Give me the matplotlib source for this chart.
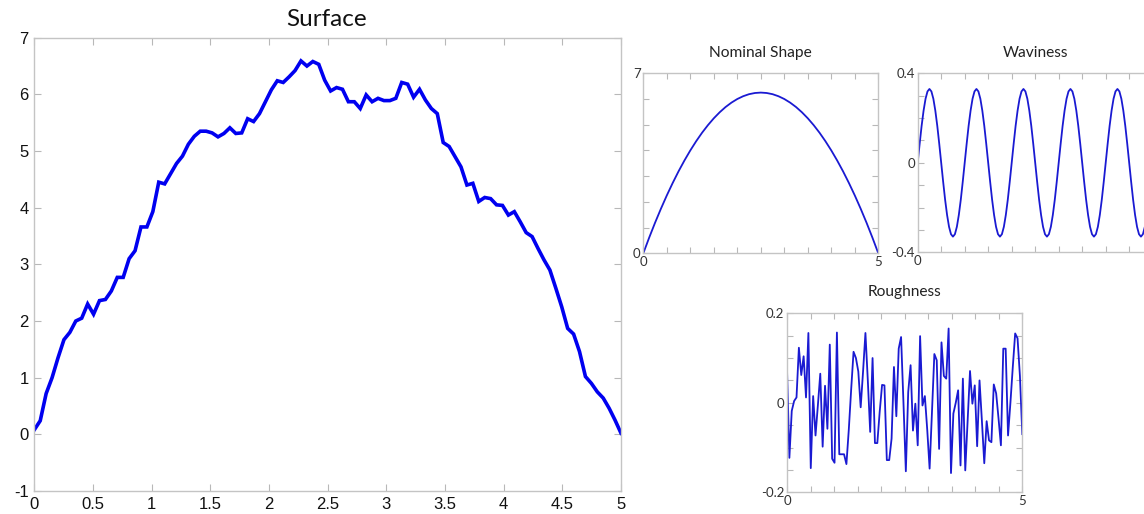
import numpy as np
import matplotlib.pyplot as plt

# surface profile (100 samples over 0..5)
surface = [0.08, 0.24, 0.72, 1.00, 1.35, 1.67, 1.80, 2.00, 2.05, 2.30,
           2.12, 2.36, 2.38, 2.53, 2.77, 2.77, 3.10, 3.24, 3.66, 3.66,
           3.93, 4.45, 4.42, 4.60, 4.78, 4.91, 5.12, 5.26, 5.35, 5.35,
           5.32, 5.25, 5.31, 5.41, 5.31, 5.32, 5.57, 5.52, 5.66, 5.87,
           6.08, 6.24, 6.21, 6.31, 6.42, 6.59, 6.50, 6.58, 6.53, 6.25,
           6.06, 6.12, 6.09, 5.87, 5.87, 5.75, 5.99, 5.87, 5.93, 5.89,
           5.89, 5.93, 6.21, 6.18, 5.95, 6.09, 5.90, 5.75, 5.66, 5.15,
           5.08, 4.90, 4.72, 4.40, 4.43, 4.11, 4.18, 4.16, 4.05, 4.04,
           3.87, 3.93, 3.75, 3.56, 3.49, 3.28, 3.08, 2.90, 2.58, 2.25,
           1.87, 1.77, 1.46, 1.02, 0.90, 0.75, 0.64, 0.46, 0.25, 0.02]

# nominal shape, sampled every 0.125
nominal = [0.000, 0.609, 1.188, 1.734, 2.250, 2.734, 3.188, 3.609, 4.000, 4.359,
           4.688, 4.984, 5.250, 5.484, 5.688, 5.859, 6.000, 6.109, 6.188, 6.234,
           6.250, 6.234, 6.188, 6.109, 6.000, 5.859, 5.688, 5.484, 5.250, 4.984,
           4.688, 4.359, 4.000, 3.609, 3.188, 2.734, 2.250, 1.734, 1.188, 0.609,
           0.000]

# waviness, sampled every 1/24
waviness = [0.000, 0.085, 0.165, 0.233, 0.286, 0.319, 0.330, 0.319, 0.286, 0.233, 0.165, 0.085,
            0.000, -0.085, -0.165, -0.233, -0.286, -0.319, -0.330, -0.319, -0.286, -0.233, -0.165, -0.085,
            0.000, 0.085, 0.165, 0.233, 0.286, 0.319, 0.330, 0.319, 0.286, 0.233, 0.165, 0.085,
            0.000, -0.085, -0.165, -0.233, -0.286, -0.319, -0.330, -0.319, -0.286, -0.233, -0.165, -0.085,
            0.000, 0.085, 0.165, 0.233, 0.286, 0.319, 0.330, 0.319, 0.286, 0.233, 0.165, 0.085,
            0.000, -0.085, -0.165, -0.233, -0.286, -0.319, -0.330, -0.319, -0.286, -0.233, -0.165, -0.085,
            0.000, 0.085, 0.165, 0.233, 0.286, 0.319, 0.330, 0.319, 0.286, 0.233, 0.165, 0.085,
            0.000, -0.085, -0.165, -0.233, -0.286, -0.319, -0.330, -0.319, -0.286, -0.233, -0.165, -0.085,
            0.000, 0.085, 0.165, 0.233, 0.286, 0.319, 0.330, 0.319, 0.286, 0.233, 0.165, 0.085,
            0.000, -0.085, -0.165, -0.233, -0.286, -0.319, -0.330, -0.319, -0.286, -0.233, -0.165, -0.085,
            0.000]

# roughness, 100 samples
roughness = [0.075, -0.123, -0.018, 0.004, 0.012, 0.123, 0.062, 0.104, 0.012, 0.156,
             -0.146, 0.015, -0.073, -0.005, 0.065, -0.098, 0.038, -0.058, 0.130, -0.125,
             -0.134, 0.157, -0.115, -0.115, -0.115, -0.137, -0.060, 0.030, 0.114, 0.100,
             0.070, -0.010, 0.070, 0.156, 0.050, -0.065, 0.100, -0.090, -0.090, -0.020,
             0.040, 0.039, -0.128, -0.128, -0.080, 0.080, -0.030, 0.121, 0.147, 0.000,
             -0.153, 0.024, 0.084, -0.062, -0.002, -0.095, 0.149, -0.006, 0.015, -0.060,
             -0.147, -0.020, 0.109, 0.095, -0.103, 0.135, 0.060, 0.054, 0.166, -0.157,
             -0.024, 0.000, 0.028, -0.140, 0.054, -0.151, -0.040, 0.071, -0.002, 0.039,
             -0.097, 0.050, -0.040, -0.135, -0.041, -0.084, -0.088, 0.041, 0.021, -0.035,
             -0.095, 0.121, 0.121, -0.073, 0.000, 0.080, 0.155, 0.144, 0.060, -0.070]

surf_xticks = ['0', '0.5', '1', '1.5', '2', '2.5', '3', '3.5', '4', '4.5', '5']
surf_yticks = ['-1', '0', '1', '2', '3', '4', '5', '6', '7']

W, H = 1144, 514
fig = plt.figure(figsize=(W / 100, H / 100), dpi=100)


def px_axes(left, top, width, height):
    return fig.add_axes([left / W, 1 - (top + height) / H, width / W, height / H])


def box_style(ax, length=4):
    for s in ax.spines.values():
        s.set_color('#c4c4c4')
        s.set_linewidth(1.0)
    ax.tick_params(direction='in', top=True, right=True, length=length,
                   color='#b8b8b8', width=0.8)


# --- Surface (big panel) ---
ax = px_axes(34.3, 37.7, 586.7, 453.3)
ax.plot(np.linspace(0, 5, len(surface)), surface, color='#0000f0', lw=2.6,
        solid_joinstyle='miter')
ax.set_xlim(0, 5)
ax.set_ylim(-1, 7)
ax.set_xticks(np.arange(0, 5.01, 0.5))
ax.set_xticklabels(surf_xticks)
ax.set_yticks(np.arange(-1, 7.01, 1))
ax.set_yticklabels(surf_yticks)
box_style(ax, length=5)
ax.tick_params(labelsize=12, colors='#b8b8b8', labelcolor='#111111', pad=4)
for lab in ax.get_xticklabels() + ax.get_yticklabels():
    lab.set_family('Liberation Sans')
fig.text(327 / W, 1 - 19 / H, 'Surface', ha='center', va='center',
         fontsize=17.5, family='Lato', color='#111111')

small_kw = dict(fontsize=9.5, family='Lato', color='#333333')
line_kw = dict(color='#1a1ad2', lw=1.3, solid_joinstyle='round')


def sparse_labels(ticks, shown):
    return [shown.get(round(t, 3), '') for t in ticks]


# --- Nominal Shape ---
ax1 = px_axes(643.3, 73.3, 235, 180)
ax1.plot(np.linspace(0, 5, len(nominal)), nominal, **line_kw)
ax1.set_xlim(0, 5)
ax1.set_ylim(0, 7)
xt = np.arange(0, 5.01, 0.5)
yt = np.arange(0, 7.01, 1)
ax1.set_xticks(xt)
ax1.set_xticklabels(sparse_labels(xt, {0.0: '0', 5.0: '5'}), **small_kw)
ax1.set_yticks(yt)
ax1.set_yticklabels(sparse_labels(yt, {0.0: '0', 7.0: '7'}), **small_kw)
box_style(ax1)
ax1.tick_params(pad=2)
fig.text(760.8 / W, 1 - 53 / H, 'Nominal Shape', ha='center', va='center',
         fontsize=11.2, family='Lato', color='#222222')

# --- Waviness (runs past the right edge) ---
ax2 = px_axes(917.7, 73.3, 235, 179)
ax2.plot(np.linspace(0, 5, len(waviness)), waviness, **line_kw)
ax2.set_xlim(0, 5)
ax2.set_ylim(-0.4, 0.4)
yt2 = np.arange(-0.4, 0.401, 0.1)
ax2.set_xticks(xt)
ax2.set_xticklabels(sparse_labels(xt, {0.0: '0'}), **small_kw)
ax2.set_yticks(yt2)
ax2.set_yticklabels(sparse_labels(yt2, {-0.4: '-0.4', 0.0: '0', 0.4: '0.4'}), **small_kw)
box_style(ax2)
ax2.tick_params(pad=2)
fig.text(1035.2 / W, 1 - 53 / H, 'Waviness', ha='center', va='center',
         fontsize=11.2, family='Lato', color='#222222')

# --- Roughness ---
ax3 = px_axes(787, 313.3, 235.3, 179)
ax3.plot(np.linspace(0, 5, len(roughness)), roughness, **line_kw)
ax3.set_xlim(0, 5)
ax3.set_ylim(-0.2, 0.2)
yt3 = np.arange(-0.2, 0.201, 0.05)
ax3.set_xticks(xt)
ax3.set_xticklabels(sparse_labels(xt, {0.0: '0', 5.0: '5'}), **small_kw)
ax3.set_yticks(yt3)
ax3.set_yticklabels(sparse_labels(yt3, {-0.2: '-0.2', 0.0: '0', 0.2: '0.2'}), **small_kw)
box_style(ax3)
ax3.tick_params(pad=2)
fig.text(904.6 / W, 1 - 292 / H, 'Roughness', ha='center', va='center',
         fontsize=11.2, family='Lato', color='#222222')

fig.savefig('out.png', dpi=100)
